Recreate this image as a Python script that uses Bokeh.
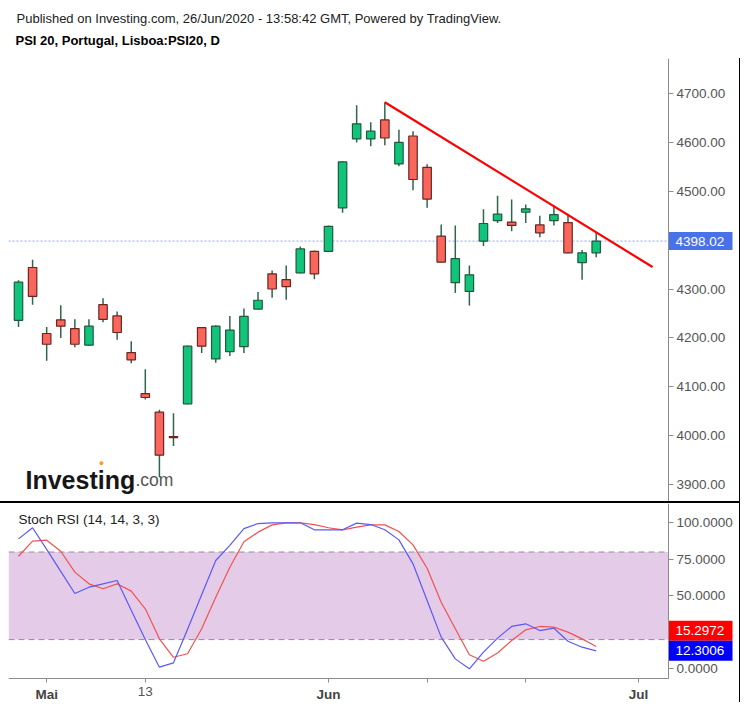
from bokeh.plotting import figure
from bokeh.models import (Range1d, Label, BoxAnnotation, FixedTicker, LinearAxis,
                          PrintfTickFormatter, Div, ColumnDataSource)
from bokeh.layouts import column, row
from bokeh.core.properties import value
from bokeh.embed import file_html
from bokeh.resources import INLINE

# ---------------- data ----------------
dates = ["2020-04-29", "2020-04-30", "2020-05-04", "2020-05-05", "2020-05-06", "2020-05-07",
         "2020-05-08", "2020-05-11", "2020-05-12", "2020-05-13", "2020-05-14", "2020-05-15",
         "2020-05-18", "2020-05-19", "2020-05-20", "2020-05-21", "2020-05-22", "2020-05-25",
         "2020-05-26", "2020-05-27", "2020-05-28", "2020-05-29", "2020-06-01", "2020-06-02",
         "2020-06-03", "2020-06-04", "2020-06-05", "2020-06-08", "2020-06-09", "2020-06-10",
         "2020-06-11", "2020-06-12", "2020-06-15", "2020-06-16", "2020-06-17", "2020-06-18",
         "2020-06-19", "2020-06-22", "2020-06-23", "2020-06-24", "2020-06-25", "2020-06-26"]
opens = [4236, 4344, 4209, 4237, 4219, 4185, 4268, 4245, 4170, 4086, 4048, 3998,
         4065, 4221, 4157, 4172, 4182, 4259, 4331, 4319, 4333, 4377, 4377, 4466,
         4607, 4607, 4646, 4556, 4613, 4549, 4408, 4313, 4295, 4398, 4440, 4437,
         4457, 4431, 4440, 4436, 4354, 4374]
highs = [4318, 4360, 4222, 4267, 4238, 4238, 4281, 4254, 4193, 4136, 4053, 4046,
         4184, 4222, 4226, 4245, 4260, 4294, 4338, 4348, 4387, 4379, 4430, 4562,
         4676, 4641, 4682, 4626, 4623, 4555, 4432, 4430, 4348, 4463, 4491, 4483,
         4473, 4450, 4471, 4454, 4380, 4416]
lows = [4222, 4268, 4153, 4200, 4181, 4184, 4232, 4196, 4148, 4074, 3915, 3979,
        4064, 4169, 4149, 4163, 4169, 4258, 4282, 4278, 4332, 4320, 4376, 4456,
        4600, 4592, 4594, 4551, 4502, 4466, 4354, 4292, 4266, 4388, 4435, 4418,
        4435, 4406, 4430, 4373, 4319, 4365]
closes = [4314, 4285, 4187, 4224, 4187, 4224, 4238, 4211, 4155, 4078, 3960, 3996,
          4183, 4183, 4224, 4216, 4244, 4277, 4300, 4305, 4382, 4331, 4428, 4560,
          4638, 4623, 4609, 4600, 4524, 4484, 4355, 4362, 4329, 4434, 4453, 4430,
          4464, 4415, 4452, 4374, 4374, 4398.02]
stoch_k = [89.0, 96.6, 81.8, 66.7, 51.6, 55.9, 58.2, 60.5, 40.1, 20.1, 1.1, 4.1,
           27.1, 50.7, 74.2, 84.6, 96.0, 99.5, 100.0, 100.0, 100.0, 95.2, 95.2, 95.2,
           99.8, 98.8, 95.2, 88.3, 71.9, 46.8, 21.7, 6.8, 0.0, 11.4, 21.0, 29.0,
           30.8, 26.2, 27.8, 18.9, 14.8, 12.3006]
stoch_d = [77.1, 87.4, 88.1, 80.5, 66.2, 58.2, 54.8, 58.2, 53.2, 41.1, 20.5, 7.9,
           10.3, 27.4, 49.0, 69.6, 87.0, 93.6, 98.6, 100.0, 100.0, 98.8, 96.6, 95.2,
           97.0, 98.6, 98.6, 94.0, 84.9, 68.9, 45.6, 27.4, 9.6, 5.2, 10.8, 19.4,
           26.7, 29.0, 28.5, 25.1, 20.5, 15.2972]
trend_x = [26, 45]
trend_y = [4682, 4345]
last_price = 4398.02
price_ticks = [3900, 4000, 4100, 4200, 4300, 4500, 4600, 4700]
rsi_ticks = [0, 50, 75, 100]
band_low, band_high = 20, 80
x_ticks = [2, 9, 22, 29, 36, 44]
day_labels = {2: "", 9: "13", 22: "", 29: "", 36: "", 44: ""}
month_labels = {2: "Mai", 9: "", 22: "Jun", 29: "", 36: "", 44: "Jul"}
header_line = "Published on Investing.com, 26/Jun/2020 - 13:58:42 GMT, Powered by TradingView."
title_line = "PSI 20, Portugal, Lisboa:PSI20, D"

FONT = "Liberation Sans"

# ---------------- geometry (pixels -> data) ----------------
BAR_PX = 14.09                 # pixels per bar
X0 = -10 / BAR_PX              # left edge of plot area
X1 = 721 / BAR_PX              # right edge of chart (incl. price-scale column)
AXIS_X = 650 / BAR_PX          # where the price scale line sits
BOX_W = 64 / BAR_PX
PAD_X = 7 / BAR_PX

idx = list(range(len(closes)))
up = [c >= o for o, c in zip(opens, closes)]
src = ColumnDataSource(dict(
    x=idx, o=opens, h=highs, l=lows, c=closes,
    top=[max(o, c) for o, c in zip(opens, closes)],
    bot=[min(o, c) for o, c in zip(opens, closes)],
    fill=["#10c57b" if u else "#f9675c" for u in up],
    line=["#1d5b3c" if u else "#6e2420" for u in up],
))


def style_axis(ax, size="13.5px"):
    ax.axis_line_color = "#8c8c8c"
    ax.major_tick_line_color = "#8c8c8c"
    ax.major_tick_in = 0
    ax.minor_tick_line_color = None
    ax.major_label_text_font = FONT
    ax.major_label_text_font_size = size
    ax.major_label_text_color = "#555555"


# ---------------- header ----------------
hdr = figure(width=739, height=58, x_range=Range1d(0, 1), y_range=Range1d(0, 1),
             output_backend="svg", toolbar_location=None, title=None,
             x_axis_location=None, y_axis_location=None,
             min_border_left=0, min_border_right=0, min_border_top=0, min_border_bottom=0)
hdr.outline_line_color = None
hdr.grid.visible = False
hdr.add_layout(Label(x=8, y=40.5, x_units="screen", y_units="screen", text=header_line,
                     text_font=FONT, text_font_size="13px", text_color="#222222",
                     text_baseline="alphabetic"))
hdr.add_layout(Label(x=7, y=18.5, x_units="screen", y_units="screen", text=title_line,
                     text_font=FONT, text_font_size="13px", text_font_style="bold",
                     text_color="#000000", text_baseline="alphabetic"))

# ---------------- main price pane ----------------
P_PX = 0.48875  # px per index point
p = figure(width=739, height=443, x_range=Range1d(X0, X1),
           y_range=Range1d(4700 - 408 / P_PX, 4700 + 35 / P_PX),
           output_backend="svg", toolbar_location=None, title=None,
           x_axis_location=None, y_axis_location=None,
           min_border_left=8, min_border_right=0, min_border_top=0, min_border_bottom=0)
p.outline_line_color = None
p.grid.visible = False

ya = LinearAxis(fixed_location=AXIS_X, ticker=FixedTicker(ticks=price_ticks),
                formatter=PrintfTickFormatter(format="%.2f"))
style_axis(ya)
ya.major_tick_out = 5
ya.major_label_standoff = 3
p.add_layout(ya, "right")

# last price dotted line
p.line([X0, AXIS_X], [last_price, last_price], line_color="#8aa4f2", line_dash="2 2", line_width=1)

p.segment(x0="x", y0="h", x1="x", y1="l", source=src, line_color="#32664c", line_width=1.5)
p.vbar(x="x", width=0.6, top="top", bottom="bot", source=src,
       fill_color="fill", line_color="line", line_width=1.2)

p.line(trend_x, trend_y, line_color="#ff0000", line_width=2.2)

# last price box on the scale
half_h = 9 / P_PX
p.quad(left=[AXIS_X], right=[AXIS_X + BOX_W], bottom=[last_price - half_h], top=[last_price + half_h],
       fill_color="#4a72e8", line_color=None)
p.text(x=[AXIS_X + PAD_X], y=[last_price], text=[f"{last_price:.2f}"], text_font=value(FONT),
       text_font_size=value("13.5px"), text_color="white", text_baseline="middle", text_align="left")

p.add_layout(Label(x=17, y=22, x_units="screen", y_units="screen", text="Investing",
                   text_font=FONT, text_font_size="25px", text_font_style="bold",
                   text_color="#161616", text_baseline="alphabetic"))
p.add_layout(Label(x=127, y=22, x_units="screen", y_units="screen", text=".com",
                   text_font=FONT, text_font_size="17.5px", text_color="#555555",
                   text_baseline="alphabetic"))
p.add_layout(Label(x=93, y=39, x_units="screen", y_units="screen", text="\u25cf",
                   text_font=FONT, text_font_size="9px", text_color="#f5a01f",
                   text_align="center", text_baseline="middle"))

# ---------------- Stoch RSI pane ----------------
R_PX = 1.46
R_ZERO = 165.3  # px from pane top to the 0 level
r = figure(width=739, height=203, x_range=p.x_range,
           y_range=Range1d(-(203 - R_ZERO) / R_PX, R_ZERO / R_PX),
           output_backend="svg", toolbar_location=None, title=None,
           x_axis_location=None, y_axis_location=None,
           min_border_left=8, min_border_right=0, min_border_top=0, min_border_bottom=0)
r.outline_line_color = None
r.grid.visible = False

X_AXIS_Y = -(175 - R_ZERO) / R_PX
ry = LinearAxis(fixed_location=AXIS_X, ticker=FixedTicker(ticks=rsi_ticks),
                formatter=PrintfTickFormatter(format="%.4f"), bounds=(X_AXIS_Y, R_ZERO / R_PX))
style_axis(ry)
ry.major_tick_out = 5
ry.major_label_standoff = 3
r.add_layout(ry, "right")

rx = LinearAxis(fixed_location=X_AXIS_Y, ticker=FixedTicker(ticks=x_ticks),
                major_label_overrides=day_labels, bounds=(X0, AXIS_X))
style_axis(rx)
rx.major_tick_out = 4
rx.major_label_standoff = 4
r.add_layout(rx, "below")

rx2 = LinearAxis(fixed_location=X_AXIS_Y, ticker=FixedTicker(ticks=x_ticks),
                 major_label_overrides=month_labels, bounds=(X0, AXIS_X))
style_axis(rx2)
rx2.axis_line_color = None
rx2.major_tick_line_color = None
rx2.major_tick_out = 4
rx2.major_label_standoff = 4
rx2.major_label_text_font_style = "bold"
rx2.major_label_text_color = "#444444"
r.add_layout(rx2, "below")

r.add_layout(BoxAnnotation(left=X0, right=AXIS_X, bottom=band_low, top=band_high,
                           fill_color="#e4cbe7", fill_alpha=1, line_color=None, level="underlay"))
for lvl in (band_low, band_high):
    r.line([X0, AXIS_X], [lvl, lvl], line_color="#909090", line_dash="6 4", line_width=1)

r.line(idx, stoch_d, line_color="#f25252", line_width=1.2)
r.line(idx, stoch_k, line_color="#5a5af5", line_width=1.2)

r.add_layout(Label(x=10, y=187, x_units="screen", y_units="screen", text="Stoch RSI (14, 14, 3, 3)",
                   text_font=FONT, text_font_size="13.5px", text_color="#222222",
                   text_baseline="middle"))

# value boxes on the oscillator scale (K on the level, D stacked above it)
bh = 20 / R_PX
k_bot, k_top = stoch_k[-1] - bh / 2, stoch_k[-1] + bh / 2
d_bot, d_top = k_top, k_top + bh
r.quad(left=[AXIS_X, AXIS_X], right=[AXIS_X + BOX_W, AXIS_X + BOX_W],
       bottom=[d_bot, k_bot], top=[d_top, k_top], fill_color=["#ff0000", "#0000ff"], line_color=None)
r.text(x=[AXIS_X + PAD_X, AXIS_X + PAD_X], y=[(d_bot + d_top) / 2, stoch_k[-1]],
       text=[f"{stoch_d[-1]:.4f}", f"{stoch_k[-1]:.4f}"], text_font=value(FONT),
       text_font_size=value("13.5px"), text_color="white", text_baseline="middle", text_align="left")

sep = Div(width=739, height=2, margin=0, styles={"background-color": "black"})
right_border = Div(width=1, height=644, margin=(58, 0, 0, 0), styles={"background-color": "black"})

layout = row(column(hdr, p, sep, r, spacing=0), right_border, spacing=0)

open("out.html", "w").write(file_html(layout, INLINE))
